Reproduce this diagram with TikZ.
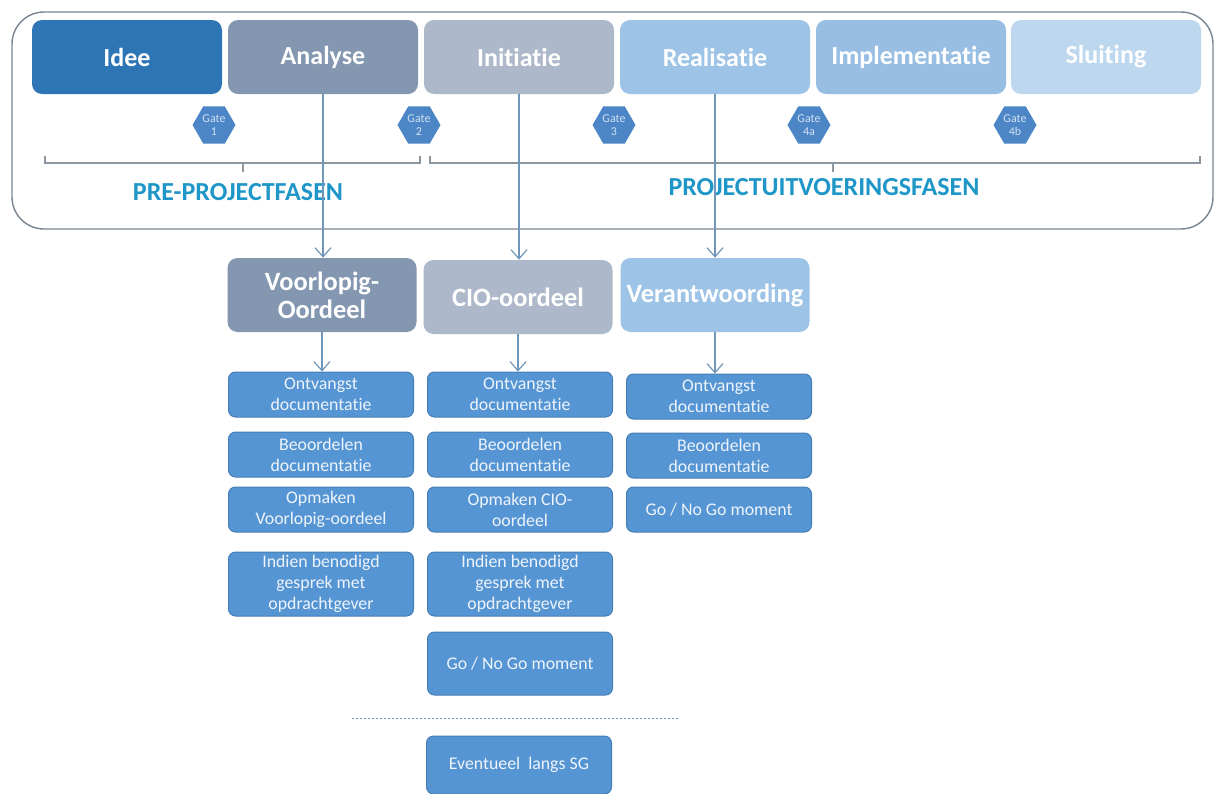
\documentclass[tikz,border=0pt]{standalone}
\usepackage{fontspec}
\setmainfont{Carlito}[Ligatures=NoCommon]
\usetikzlibrary{shapes.geometric,arrows.meta}

\definecolor{cIdee}{RGB}{46,117,182}
\definecolor{cAnalyse}{RGB}{132,151,176}
\definecolor{cInitiatie}{RGB}{173,185,202}
\definecolor{cRealisatie}{RGB}{157,195,230}
\definecolor{cImpl}{RGB}{152,190,228}
\definecolor{cSluiting}{RGB}{189,215,238}
\definecolor{cStep}{RGB}{86,149,211}
\definecolor{cStepLine}{RGB}{70,125,180}
\definecolor{cGate}{RGB}{76,134,198}
\definecolor{cFrame}{RGB}{120,132,145}
\definecolor{cArrow}{RGB}{112,150,185}
\definecolor{cLabel}{RGB}{30,150,200}
\definecolor{cBracket}{RGB}{140,150,160}

\tikzset{
  phase/.style={rectangle, rounded corners=5pt, fill=#1, draw=none,
    minimum width=95pt, minimum height=37pt, inner sep=2pt,
    text=white, font=\fontsize{13}{14}\selectfont\bfseries, align=center},
  review/.style={rectangle, rounded corners=5pt, fill=#1, draw=none,
    minimum width=94.5pt, minimum height=37pt, inner sep=2pt,
    text=white, font=\fontsize{13.2}{14}\selectfont\bfseries, align=center},
  stepbox/.style={rectangle, rounded corners=3.5pt, fill=cStep, draw=cStepLine,
    line width=0.5pt, minimum width=92.5pt, inner sep=1pt,
    text=white!90!cStep, font=\fontsize{8.9}{10.5}\selectfont, align=center},
  gate/.style={regular polygon, regular polygon sides=6, fill=cGate, draw=none,
    minimum size=21.5pt, inner sep=0pt, text=white!75!cGate,
    font=\fontsize{6}{6.3}\selectfont, align=center},
  flow/.style={draw=cArrow, line width=0.6pt,
    -{Straight Barb[length=4.5pt,width=8pt,line width=0.6pt]}},
  phaselabel/.style={text=cLabel, font=\fontsize{13}{14}\selectfont\bfseries},
  bracket/.style={draw=cBracket, line width=0.6pt}
}

\begin{document}
\begin{tikzpicture}[x=0.5pt, y=-0.5pt]
  \useasboundingbox (0,0) rectangle (1227,793);

  % frame around the phase strip
  \draw[cFrame, line width=0.7pt, rounded corners=16pt] (12,12) rectangle (1213,229);

  % the six phases
  \node[phase=cIdee]       (idee)  at (127,57)  {Idee};
  \node[phase=cAnalyse]    (ana)   at (323,57)  {Analyse};
  \node[phase=cInitiatie]  (ini)   at (519,57)  {Initiatie};
  \node[phase=cRealisatie] (real)  at (715,57)  {Realisatie};
  \node[phase=cImpl]       (impl)  at (911,57)  {Implementatie};
  \node[phase=cSluiting]   (sluit) at (1106,57) {Sluiting};

  % gates between phases
  \node[gate] (g1)  at (214,125)  {Gate\\1};
  \node[gate] (g2)  at (419,125)  {Gate\\2};
  \node[gate] (g3)  at (614,125)  {Gate\\3};
  \node[gate] (g4a) at (809,125)  {Gate\\4a};
  \node[gate] (g4b) at (1015,125) {Gate\\4b};

  % brackets grouping the phases
  \draw[bracket] (45,156) -- (45,163) -- (420,163) -- (420,156);
  \draw[bracket] (243,163) -- (243,172);
  \draw[bracket] (430,156) -- (430,163) -- (1200,163) -- (1200,156);
  \draw[bracket] (833,163) -- (833,172);
  \node[phaselabel] (pre)  at (238,192) {PRE-PROJECTFASEN};
  \node[phaselabel] (proj) at (824,187) {PROJECTUITVOERINGSFASEN};

  % review moments
  \node[review=cAnalyse]    (vo)  at (322,295) {Voorlopig-\\Oordeel};
  \node[review=cInitiatie]  (cio) at (518,297) {CIO-oordeel};
  \node[review=cRealisatie] (ver) at (715,295) {Verantwoording};

  \draw[flow] (ana.south)  -- (ana.south |- vo.north);
  \draw[flow] (ini.south)  -- (ini.south |- cio.north);
  \draw[flow] (real.south) -- (real.south |- ver.north);

  % steps under Voorlopig-Oordeel
  \node[stepbox, minimum height=22.5pt] (a1) at (321,394.5) {Ontvangst\\documentatie};
  \node[stepbox, minimum height=22.5pt] (a2) at (321,454.5) {Beoordelen\\documentatie};
  \node[stepbox, minimum height=22.5pt] (a3) at (321,509.5) {Opmaken\\Voorlopig-oordeel};
  \node[stepbox, minimum height=32pt]   (a4) at (321,584)   {Indien benodigd\\gesprek met\\opdrachtgever};

  % steps under CIO-oordeel
  \node[stepbox, minimum height=22.5pt] (b1) at (520,394.5) {Ontvangst\\documentatie};
  \node[stepbox, minimum height=22.5pt] (b2) at (520,454.5) {Beoordelen\\documentatie};
  \node[stepbox, minimum height=22.5pt] (b3) at (520,509.5) {Opmaken CIO-\\oordeel};
  \node[stepbox, minimum height=32pt]   (b4) at (520,584)   {Indien benodigd\\gesprek met\\opdrachtgever};
  \node[stepbox, minimum height=31.5pt] (b5) at (520,663.5) {Go / No Go moment};

  % steps under Verantwoording
  \node[stepbox, minimum height=22.5pt] (c1) at (719,396.5) {Ontvangst\\documentatie};
  \node[stepbox, minimum height=22.5pt] (c2) at (719,455.5) {Beoordelen\\documentatie};
  \node[stepbox, minimum height=22.5pt] (c3) at (719,509.5) {Go / No Go moment};

  \draw[flow] (vo.south)  -- (vo.south |- a1.north);
  \draw[flow] (cio.south) -- (cio.south |- b1.north);
  \draw[flow] (ver.south) -- (ver.south |- c1.north);

  % optional escalation below the separator
  \coordinate (sepL) at (352,718);
  \coordinate (sepR) at (680,718);
  \draw[cArrow, line width=0.5pt, dash pattern=on 1.2pt off 0.8pt] (sepL) -- (sepR);
  \node[stepbox, minimum height=29pt] (sg) at (519,765) {Eventueel\ \ langs SG};
\end{tikzpicture}
\end{document}
